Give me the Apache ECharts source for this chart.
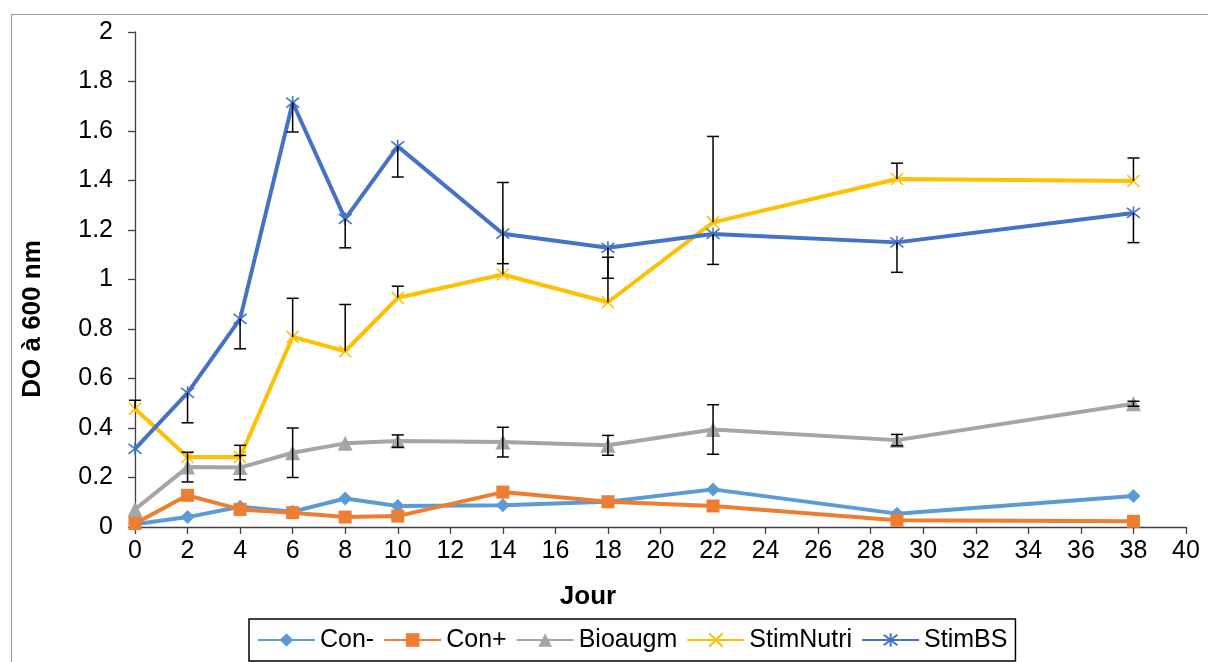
<!DOCTYPE html>
<html>
<head>
<meta charset="utf-8">
<script src="https://cdn.jsdelivr.net/npm/echarts@6/dist/echarts.min.js"></script>
<style>
  html, body { margin: 0; padding: 0; background: #fff; }
  #chart { width: 1208px; height: 662px; }
</style>
</head>
<body>
<div id="chart"></div>
<script>
// Sampling days
const days = [0, 2, 4, 6, 8, 10, 14, 18, 22, 29, 38];

// Optical density at 600 nm for each condition
const conMoins  = [0.011, 0.040, 0.082, 0.062, 0.115, 0.085, 0.088, 0.102, 0.152, 0.054, 0.125];
const conPlus   = [0.014, 0.128, 0.071, 0.058, 0.040, 0.044, 0.141, 0.102, 0.085, 0.027, 0.023];
const bioaugm   = [0.071, 0.242, 0.240, 0.300, 0.338, 0.347, 0.343, 0.330, 0.394, 0.351, 0.498];
const stimNutri = [0.478, 0.283, 0.283, 0.768, 0.710, 0.926, 1.020, 0.908, 1.231, 1.406, 1.398];
const stimBS    = [0.316, 0.542, 0.841, 1.715, 1.245, 1.538, 1.185, 1.128, 1.184, 1.150, 1.269];

// Error bars: Bioaugm symmetric, StimNutri upward only, StimBS downward only
const bioaugmErr       = [0, 0.060, 0.049, 0.100, 0, 0.025, 0.060, 0.040, 0.100, 0.023, 0.010];
const stimNutriErrPlus = [0.034, 0, 0.047, 0.156, 0.189, 0.047, 0.372, 0.182, 0.347, 0.064, 0.093];
const stimBSErrMinus   = [0, 0.121, 0.121, 0.119, 0.117, 0.124, 0.121, 0.123, 0.123, 0.121, 0.120];

// Axis ticks
const xTicks = { min: 0, max: 40, interval: 2 };
const yTicks = { min: 0, max: 2, interval: 0.2 };

const seriesNames = ['Con-', 'Con+', 'Bioaugm', 'StimNutri', 'StimBS'];
const colors = ['#5B9BD5', '#ED7D31', '#A5A5A5', '#FFC000', '#4472C4'];

const crossPath = 'path://M0,0L10,10M10,0L0,10';
const starPath = 'path://M0,0L10,10M10,0L0,10M5,-1.5L5,11.5';

function pairs(vals) {
  return days.map((d, i) => [d, vals[i]]);
}

function errData(vals, minus, plus) {
  return days.map((d, i) => [d, vals[i], minus[i], plus[i]]);
}

const zeros = days.map(() => 0);

function lineSeries(idx, vals, symbol, size, stroked) {
  const c = colors[idx];
  return {
    name: seriesNames[idx],
    type: 'line',
    data: pairs(vals),
    symbol: symbol,
    symbolSize: size,
    showAllSymbol: true,
    color: c,
    lineStyle: { color: c, width: 4 },
    itemStyle: stroked
      ? { color: 'rgba(0,0,0,0)', borderColor: c, borderWidth: 1.6 }
      : { color: c, borderWidth: 0 },
    emphasis: { disabled: true },
    z: 2
  };
}

function errorSeries(data) {
  return {
    type: 'custom',
    silent: true,
    z: 3,
    data: data,
    encode: { x: 0, y: 1 },
    renderItem: function (params, api) {
      const x = api.value(0), y = api.value(1);
      const lo = api.value(2), hi = api.value(3);
      if (!lo && !hi) return { type: 'group', children: [] };
      const pLo = api.coord([x, y - lo]);
      const pHi = api.coord([x, y + hi]);
      const cap = 6;
      const st = { stroke: '#000', lineWidth: 1.5 };
      const children = [{
        type: 'line',
        shape: { x1: pLo[0], y1: pLo[1], x2: pHi[0], y2: pHi[1] },
        style: st
      }];
      if (lo > 0) children.push({
        type: 'line',
        shape: { x1: pLo[0] - cap, y1: pLo[1], x2: pLo[0] + cap, y2: pLo[1] },
        style: st
      });
      if (hi > 0) children.push({
        type: 'line',
        shape: { x1: pHi[0] - cap, y1: pHi[1], x2: pHi[0] + cap, y2: pHi[1] },
        style: st
      });
      return { type: 'group', children: children };
    }
  };
}

const axisColor = '#404040';
const font = 'Liberation Sans, Arial, sans-serif';

const option = {
  animation: false,
  textStyle: { fontFamily: font },
  grid: { left: 135, right: 22, top: 32, bottom: 135, containLabel: false },
  xAxis: {
    type: 'value',
    min: xTicks.min, max: xTicks.max, interval: xTicks.interval,
    axisLine: { show: true, lineStyle: { color: axisColor, width: 1.3 } },
    axisTick: { show: true, length: 7, lineStyle: { color: axisColor, width: 1.3 } },
    splitLine: { show: false },
    axisLabel: { color: '#000', fontSize: 25, fontFamily: font, margin: 12 }
  },
  yAxis: {
    type: 'value',
    min: yTicks.min, max: yTicks.max, interval: yTicks.interval,
    axisLine: { show: true, lineStyle: { color: axisColor, width: 1.3 } },
    axisTick: { show: true, length: 7, lineStyle: { color: axisColor, width: 1.3 } },
    splitLine: { show: false },
    axisLabel: {
      color: '#000', fontSize: 25, fontFamily: font, margin: 22,
      formatter: v => String(+v.toFixed(1))
    }
  },
  legend: {
    data: seriesNames,
    left: 249,
    top: 619,
    orient: 'horizontal',
    padding: [7, 8, 7, 8],
    borderColor: '#000',
    borderWidth: 1.5,
    itemWidth: 57,
    itemHeight: 17,
    itemGap: 9,
    textStyle: { color: '#000', fontSize: 25, fontFamily: font, lineHeight: 28 }
  },
  graphic: [
    {
      type: 'rect',
      shape: { x: 11.5, y: 14.5, width: 1260, height: 720 },
      style: { fill: 'none', stroke: '#a0a0a0', lineWidth: 1.2 },
      silent: true, z: -10
    },
    {
      type: 'text',
      x: 33, y: 319,
      rotation: Math.PI / 2,
      style: {
        text: 'DO à 600 nm',
        font: 'bold 26px ' + font,
        fill: '#000',
        textAlign: 'center',
        textVerticalAlign: 'middle'
      }
    },
    {
      type: 'text',
      x: 588, y: 597,
      style: {
        text: 'Jour',
        font: 'bold 26px ' + font,
        fill: '#000',
        textAlign: 'center',
        textVerticalAlign: 'middle'
      }
    }
  ],
  series: [
    lineSeries(0, conMoins, 'diamond', 14, false),
    lineSeries(1, conPlus, 'rect', 13, false),
    lineSeries(2, bioaugm, 'triangle', 15, false),
    lineSeries(3, stimNutri, crossPath, 12, true),
    lineSeries(4, stimBS, starPath, 13, true),
    errorSeries(errData(bioaugm, bioaugmErr, bioaugmErr)),
    errorSeries(errData(stimNutri, zeros, stimNutriErrPlus)),
    errorSeries(errData(stimBS, stimBSErrMinus, zeros))
  ]
};

const chart = echarts.init(document.getElementById('chart'), null, { renderer: 'canvas' });
chart.setOption(option);
</script>
</body>
</html>
